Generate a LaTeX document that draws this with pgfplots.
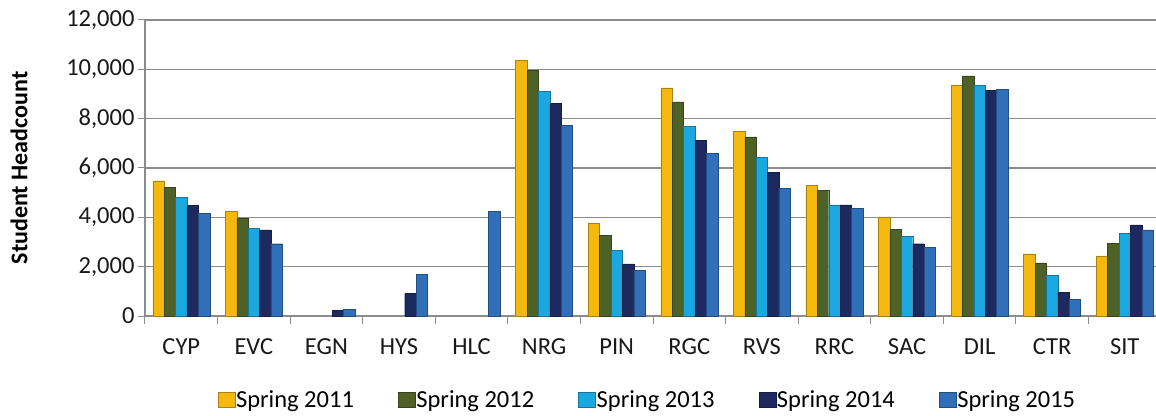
\documentclass[border=0pt]{standalone}
\usepackage{pgfplots}
\pgfplotsset{compat=1.18}
\usepackage{fontspec}
\setmainfont{Carlito}
\definecolor{cA}{HTML}{F5B80F}
\definecolor{cB}{HTML}{4E6228}
\definecolor{cC}{HTML}{1BA8E0}
\definecolor{cD}{HTML}{1C2A60}
\definecolor{cE}{HTML}{3070B8}
\definecolor{gridc}{HTML}{8C8C8C}
\begin{document}
\begin{tikzpicture}
\path[use as bounding box] (-145pt,-99pt) rectangle (1011pt,316pt);
\begin{axis}[
  scale only axis, width=1016pt, height=296pt,
  ymin=0, ymax=12000, xmin=-0.5, xmax=13.5,
  ytick={0,2000,...,12000},
  xtick={0,...,13},
  xticklabels={CYP,EVC,EGN,HYS,HLC,NRG,PIN,RGC,RVS,RRC,SAC,DIL,CTR,SIT},
  minor xtick={-0.5,0.5,...,13.5},
  major x tick style={draw=none},
  tick align=outside,
  minor tick length=8pt, major tick length=7pt,
  tick style={gridc, line width=1pt},
  ymajorgrids, grid style={gridc, line width=1.2pt},
  axis x line*=bottom, axis y line*=left,
  axis line style={gridc, line width=1.2pt},
  every outer x axis line/.append style={-}, every outer y axis line/.append style={-},
  scaled y ticks=false,
  yticklabel style={/pgf/number format/.cd, 1000 sep={,}, assume math mode=true},
  /pgf/number format/assume math mode=true,
  ticklabel style={font=\fontsize{24.5}{28}\selectfont, text=black!90},
  xticklabel style={yshift=-12pt},
  ylabel={\bfseries Student Headcount},
  ylabel style={font=\fontsize{24}{28}\selectfont, at={(axis description cs:-0.124,0.5)}, rotate=0, anchor=center},
  ybar, bar width=11.4pt,
  legend columns=5,
  legend style={draw=none, fill=none, at={(0.494,-0.284)}, anchor=center,
    font=\fontsize{24.5}{28}\selectfont,
    /tikz/every even column/.append style={column sep=43pt},
    nodes={inner sep=1pt}},
  legend image code/.code={\draw[#1] (0pt,-7pt) rectangle (17pt,8pt);},
]
\addplot[bar shift=-22.8pt, draw=cA!70!black, line width=0.4pt, fill=cA] coordinates
  {(0,5480) (1,4240) (5,10370) (6,3750) (7,9250) (8,7480) (9,5300) (10,4020) (11,9340) (12,2520) (13,2440)};
\addplot[bar shift=-11.4pt, draw=cB!70!black, line width=0.4pt, fill=cB] coordinates
  {(0,5220) (1,3960) (5,9950) (6,3280) (7,8680) (8,7260) (9,5080) (10,3520) (11,9730) (12,2150) (13,2940)};
\addplot[bar shift=0pt, draw=cC!70!black, line width=0.4pt, fill=cC] coordinates
  {(0,4810) (1,3560) (5,9120) (6,2670) (7,7690) (8,6420) (9,4500) (10,3230) (11,9350) (12,1650) (13,3340)};
\addplot[bar shift=11.4pt, draw=cD!70!black, line width=0.4pt, fill=cD] coordinates
  {(0,4490) (1,3490) (2,220) (3,910) (5,8620) (6,2110) (7,7110) (8,5810) (9,4500) (10,2930) (11,9160) (12,970) (13,3690)};
\addplot[bar shift=22.8pt, draw=cE!70!black, line width=0.4pt, fill=cE] coordinates
  {(0,4150) (1,2930) (2,280) (3,1700) (4,4230) (5,7720) (6,1850) (7,6600) (8,5180) (9,4370) (10,2780) (11,9180) (12,680) (13,3490)};
\legend{Spring 2011,Spring 2012,Spring 2013,Spring 2014,Spring 2015}
\end{axis}
\end{tikzpicture}
\end{document}
